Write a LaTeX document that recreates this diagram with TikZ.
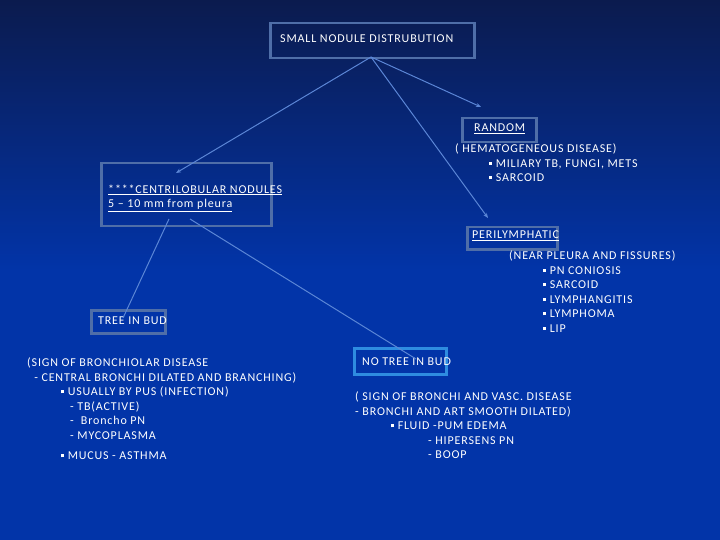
\documentclass[tikz,border=0pt]{standalone}
\usepackage{fontspec}
\setmainfont{Carlito}[LetterSpace=7]
\usetikzlibrary{arrows.meta}
\newcommand{\sqb}{\raisebox{2.5pt}{\rule{3pt}{3pt}}\ }
\begin{document}
\begin{tikzpicture}[x=1pt,y=-1pt,
  box/.style={draw=boxc,line width=2.5pt,inner sep=0pt,anchor=north west},
  txt/.style={text=white,font=\fontsize{12}{14.5}\selectfont,anchor=west,inner sep=0pt,align=left},
  conn/.style={draw=linec,line width=1pt},
  arr/.style={conn,-{Stealth[length=5pt,width=4pt]}}]
\definecolor{boxc}{HTML}{4F6EA8}
\definecolor{linec}{HTML}{5B86D6}
\definecolor{cyanb}{HTML}{2E8CE0}
\definecolor{topc}{HTML}{0B1B4E}
\definecolor{botc}{HTML}{0234A8}
\shade[top color=topc,bottom color=botc] (0,0) rectangle (720,270);
\fill[botc] (0,270) rectangle (720,540);
\useasboundingbox (0,0) rectangle (720,540);
% boxes
\node[box,minimum width=204pt,minimum height=35pt] (top) at (269,22) {};
\node[box,minimum width=74pt,minimum height=24pt] (rand) at (461,117) {};
\node[box,minimum width=170pt,minimum height=63pt] (cent) at (100,162) {};
\node[box,minimum width=90pt,minimum height=22pt] (peri) at (466,226) {};
\node[box,minimum width=74pt,minimum height=23pt] (tib) at (90,309) {};
\node[box,draw=cyanb,minimum width=92pt,minimum height=26pt] (ntib) at (353,347) {};
% texts
\node[txt] (tt) at (280,39) {SMALL NODULE DISTRUBUTION};
\node[txt] (rt) at (474,129) {\underline{RANDOM}};
\node[txt] (ct) at (108,198) {\underline{****CENTRILOBULAR NODULES}\\\underline{5 -- 10 mm from pleura}};
\node[txt] (pt) at (472,236) {\underline{PERILYMPHATIC}};
\node[txt] (tbt) at (98,321) {TREE IN BUD};
\node[txt] (ntt) at (362,362) {NO TREE IN BUD};
\node[txt,anchor=north west] (rd) at (455,144) {( HEMATOGENEOUS DISEASE)\\\hspace*{34pt}\sqb MILIARY TB, FUNGI, METS\\\hspace*{34pt}\sqb SARCOID};
\node[txt,anchor=north west] (pd) at (509,251) {(NEAR PLEURA AND FISSURES)\\\hspace*{34pt}\sqb PN CONIOSIS\\\hspace*{34pt}\sqb SARCOID\\\hspace*{34pt}\sqb LYMPHANGITIS\\\hspace*{34pt}\sqb LYMPHOMA\\\hspace*{34pt}\sqb LIP};
\node[txt,anchor=north west] (td) at (27,358) {(SIGN OF BRONCHIOLAR DISEASE\\\ \ - CENTRAL BRONCHI DILATED AND BRANCHING)\\\hspace*{34pt}\sqb USUALLY BY PUS (INFECTION)\\\hspace*{43pt}- TB(ACTIVE)\\\hspace*{43pt}-\ \ Broncho PN\\\hspace*{43pt}- MYCOPLASMA\\[6pt]\hspace*{34pt}\sqb MUCUS - ASTHMA};
\node[txt,anchor=north west] (nd) at (355,392) {( SIGN OF BRONCHI AND VASC. DISEASE\\- BRONCHI AND ART SMOOTH DILATED)\\\hspace*{36pt}\sqb FLUID -PUM EDEMA\\\hspace*{73pt}- HIPERSENS PN\\\hspace*{73pt}- BOOP};
% connectors
\coordinate (a) at (371,57);
\coordinate (ce) at (176,173);
\coordinate (re) at (481,107);
\coordinate (pe) at (488,218);
\draw[arr] (a) -- (ce);
\draw[arr] (a) -- (re);
\draw[arr] (a) -- (pe);
\coordinate (c1) at (169,219);
\coordinate (c2) at (190,219);
\coordinate (t1) at (123,318);
\coordinate (n1) at (416,359);
\draw[conn] (c1) -- (t1);
\draw[conn] (c2) -- (n1);
\end{tikzpicture}
\end{document}
